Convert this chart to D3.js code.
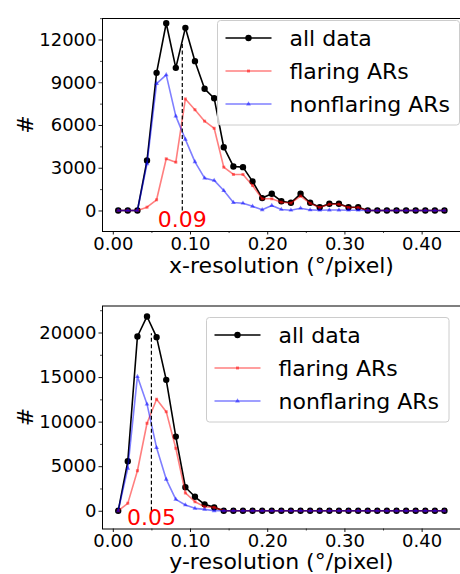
<!DOCTYPE html>
<html>
<head>
<meta charset="utf-8">
<script src="https://cdn.jsdelivr.net/npm/d3@7"></script>
<style>
  html, body { margin: 0; padding: 0; background: #fff; }
  svg { display: block; font-family: "DejaVu Sans", sans-serif; }
</style>
</head>
<body>
<script>
// ---------------- data ----------------
const xCenters = [0.0070,0.0194,0.0319,0.0443,0.0567,0.0692,0.0816,0.0940,0.1064,0.1189,
                  0.1313,0.1437,0.1562,0.1686,0.1810,0.1935,0.2059,0.2183,0.2307,0.2432,
                  0.2556,0.2680,0.2805,0.2929,0.3053,0.3178,0.3302,0.3426,0.3550,0.3675,
                  0.3799,0.3923,0.4048,0.4172,0.4296];

const seriesNames = ["all data", "flaring ARs", "nonflaring ARs"];

// x-resolution histogram (top panel)
const xresAll        = [0,0,0,3510,9660,13140,10010,12820,10480,8540,7880,4440,3090,3040,2040,870,1170,650,540,1170,540,230,470,470,230,230,0,0,0,0,0,0,0,0,0];
const xresFlaring    = [0,0,0,230,750,3630,3390,7830,7070,6270,5770,3040,2530,2530,1750,820,820,580,520,1010,500,210,440,440,210,210,0,0,0,0,0,0,0,0,0];
const xresNonflaring = [0,0,0,3280,8910,9520,6620,4990,3410,2270,2110,1400,560,510,290,50,350,70,20,160,40,20,30,30,20,20,0,0,0,0,0,0,0,0,0];

// y-resolution histogram (bottom panel)
const yresAll        = [0,5550,19550,21800,19480,14690,8320,2640,1570,720,380,0,0,0,0,0,0,0,0,0,0,0,0,0,0,0,0,0,0,0,0,0,0,0,0];
const yresFlaring    = [0,830,4490,9820,12520,11120,7010,2000,1010,450,380,0,0,0,0,0,0,0,0,0,0,0,0,0,0,0,0,0,0,0,0,0,0,0,0];
const yresNonflaring = [0,4760,15060,11960,7080,3530,1280,650,270,160,0,0,0,0,0,0,0,0,0,0,0,0,0,0,0,0,0,0,0,0,0,0,0,0,0];

const xTicks      = [0.00, 0.10, 0.20, 0.30, 0.40];
const xMinorTicks = [0.05, 0.15, 0.25, 0.35, 0.45];
const xresYTicks      = [0, 3000, 6000, 9000, 12000];
const xresYMinorTicks = [1500, 4500, 7500, 10500, 13500];
const yresYTicks      = [0, 5000, 10000, 15000, 20000];
const yresYMinorTicks = [2500, 7500, 12500, 17500, 22500];

const xresMedian = 0.09, xresMedianTop = 11750, xresMedianLabel = "0.09";
const yresMedian = 0.05, yresMedianTop = 19930, yresMedianLabel = "0.05";

const xLabels = ["x-resolution (°/pixel)", "y-resolution (°/pixel)"];
const yLabel = "#";

// ---------------- drawing ----------------
const W = 460, H = 574;
const svg = d3.select("body").append("svg").attr("width", W).attr("height", H);
svg.append("rect").attr("width", W).attr("height", H).attr("fill", "#fff");

const colors = ["#000000", "rgba(255,0,0,0.5)", "rgba(0,0,255,0.5)"];

function panel(cfg) {
  const left = 102, right = 461;
  const x = d3.scaleLinear().domain([-0.014, 0.451]).range([left, right]);
  const y = d3.scaleLinear().domain(cfg.yDomain).range([cfg.bottom, cfg.top]);
  const g = svg.append("g");

  // x axis
  const xa = g.append("g").attr("transform", `translate(0,${cfg.bottom})`)
    .call(d3.axisBottom(x).tickValues(xTicks).tickFormat(d3.format(".2f")).tickSize(3.5).tickPadding(cfg.xTickPad));
  xa.select(".domain").remove();
  xa.selectAll("text").attr("font-size", 18).attr("font-family", "DejaVu Sans").attr("fill", "#000");
  xa.selectAll("line").attr("stroke", "#000").attr("stroke-width", 0.9);
  const xm = g.append("g").attr("transform", `translate(0,${cfg.bottom})`)
    .call(d3.axisBottom(x).tickValues(xMinorTicks).tickFormat("").tickSize(2));
  xm.select(".domain").remove();
  xm.selectAll("line").attr("stroke", "#000").attr("stroke-width", 0.7);

  // y axis
  const ya = g.append("g").attr("transform", `translate(${left},0)`)
    .call(d3.axisLeft(y).tickValues(cfg.yTicks).tickFormat(d3.format("d")).tickSize(3.5).tickPadding(2));
  ya.select(".domain").remove();
  ya.selectAll("text").attr("font-size", 18).attr("font-family", "DejaVu Sans").attr("fill", "#000");
  ya.selectAll("line").attr("stroke", "#000").attr("stroke-width", 0.9);
  const ym = g.append("g").attr("transform", `translate(${left},0)`)
    .call(d3.axisLeft(y).tickValues(cfg.yMinor).tickFormat("").tickSize(2));
  ym.select(".domain").remove();
  ym.selectAll("line").attr("stroke", "#000").attr("stroke-width", 0.7);

  // clip
  const clipId = "clip" + cfg.id;
  svg.append("clipPath").attr("id", clipId).append("rect")
    .attr("x", left).attr("y", cfg.top).attr("width", right - left).attr("height", cfg.bottom - cfg.top);
  const plot = g.append("g").attr("clip-path", `url(#${clipId})`);

  const line = d3.line().x((d, i) => x(xCenters[i])).y(d => y(d));
  const series = [cfg.all, cfg.flaring, cfg.nonflaring];
  const symbols = [d3.symbolCircle, d3.symbolSquare, d3.symbolTriangle];
  const symSizes = [32, 9, 10];

  series.forEach((vals, si) => {
    const sg = plot.append("g");
    sg.append("path").datum(vals).attr("d", line)
      .attr("fill", "none").attr("stroke", colors[si]).attr("stroke-width", 1.6)
      .attr("stroke-linejoin", "round");
    sg.selectAll("path.m").data(vals).enter().append("path").attr("class", "m")
      .attr("d", d3.symbol().type(symbols[si]).size(symSizes[si]))
      .attr("transform", (d, i) => `translate(${x(xCenters[i])},${y(d)})`)
      .attr("fill", colors[si]);
  });

  // median dashed line
  plot.append("line")
    .attr("x1", x(cfg.median)).attr("x2", x(cfg.median))
    .attr("y1", y(0)).attr("y2", y(cfg.medianTop))
    .attr("stroke", "#000").attr("stroke-width", 1.2).attr("stroke-dasharray", "4,2.5");
  g.append("text").attr("x", x(cfg.median)).attr("y", cfg.medianBaseline)
    .attr("text-anchor", "middle").attr("font-size", 22).attr("fill", "red")
    .text(cfg.medianLabel);

  // frame
  g.append("rect").attr("x", left + 0.5).attr("y", cfg.top + 0.5)
    .attr("width", right - left).attr("height", cfg.bottom - cfg.top)
    .attr("fill", "none").attr("stroke", "#000").attr("stroke-width", 1);

  // labels
  g.append("text").attr("x", (left + right) / 2).attr("y", cfg.xLabelBaseline)
    .attr("text-anchor", "middle").attr("font-size", 22).attr("fill", "#000").text(cfg.xLabel);
  g.append("text").attr("transform", `translate(33,${(cfg.top + cfg.bottom) / 2}) rotate(-90)`)
    .attr("text-anchor", "middle").attr("font-size", 22).attr("fill", "#000").text(yLabel);

  // legend
  const L = cfg.legend;
  const lg = g.append("g");
  lg.append("rect").attr("x", L.x).attr("y", L.y).attr("width", L.w).attr("height", L.h)
    .attr("rx", 3).attr("fill", "#fff").attr("fill-opacity", 0.8)
    .attr("stroke", "#cccccc").attr("stroke-width", 1);
  seriesNames.forEach((name, si) => {
    const by = L.y + 25 + si * 33;
    const ly = by - 7.5;
    lg.append("line").attr("x1", L.x + 8).attr("x2", L.x + 54).attr("y1", ly).attr("y2", ly)
      .attr("stroke", colors[si]).attr("stroke-width", 1.6);
    lg.append("path").attr("d", d3.symbol().type(symbols[si]).size(symSizes[si]))
      .attr("transform", `translate(${L.x + 31},${ly})`).attr("fill", colors[si]);
    lg.append("text").attr("x", L.x + 72).attr("y", by).attr("font-size", 22)
      .attr("fill", "#000").text(name);
  });
}

panel({
  id: "top", top: 18, bottom: 231, yDomain: [-1440, 13510],
  yTicks: xresYTicks, yMinor: xresYMinorTicks, xTickPad: 2.5,
  all: xresAll, flaring: xresFlaring, nonflaring: xresNonflaring,
  median: xresMedian, medianTop: xresMedianTop, medianLabel: xresMedianLabel, medianBaseline: 227,
  xLabel: xLabels[0], xLabelBaseline: 272.5,
  legend: { x: 217.5, y: 20.5, w: 242, h: 104.5 }
});

panel({
  id: "bot", top: 305.5, bottom: 528.5, yDomain: [-1990, 23030],
  yTicks: yresYTicks, yMinor: yresYMinorTicks, xTickPad: 2,
  all: yresAll, flaring: yresFlaring, nonflaring: yresNonflaring,
  median: yresMedian, medianTop: yresMedianTop, medianLabel: yresMedianLabel, medianBaseline: 525,
  xLabel: xLabels[1], xLabelBaseline: 569,
  legend: { x: 206.5, y: 317.5, w: 242.5, h: 104.5 }
});
</script>
</body>
</html>
